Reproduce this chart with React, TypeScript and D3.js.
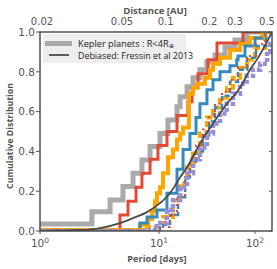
import React from 'react';
import * as d3 from 'd3';

const W = 277;
const H = 269;

const periodTicks = [1, 10, 100];
const periodTickExp = ['0', '1', '2'];
const distanceTicks = [0.02, 0.05, 0.1, 0.2, 0.3, 0.5];
const distanceTickLabels = ['0.02', '0.05', '0.1', '0.2', '0.3', '0.5'];
const yTicks = [0, 0.2, 0.4, 0.6, 0.8, 1.0];
const yTickLabels = ['0.0', '0.2', '0.4', '0.6', '0.8', '1.0'];

// Kepler planets R<4 Re (gray)
const grayP = [1, 2.73, 3.88, 4.98, 6.05, 7.19, 8.41, 10.24, 12.4, 15.4, 16.6, 19.6, 22.6, 26.7, 31.6, 38.3, 48.7, 61.9, 82.5];
const grayV = [0.035, 0.097, 0.156, 0.223, 0.29, 0.357, 0.424, 0.49, 0.558, 0.625, 0.675, 0.725, 0.77, 0.81, 0.85, 0.885, 0.925, 0.96, 1.0];

// red solid
const redP = [1, 4.7, 5.49, 6.41, 7.19, 8.41, 9.8, 12.1, 15.4, 20.0, 22.1, 25.5, 32.4, 40.2, 75.0];
const redV = [0, 0.08, 0.15, 0.22, 0.29, 0.36, 0.43, 0.5, 0.58, 0.65, 0.72, 0.79, 0.86, 0.945, 1.0];

// orange solid
const orangeP = [1, 6.92, 8.09, 8.74, 9.25, 9.61, 10.24, 11.0, 12.4, 14.0, 15.4, 16.6, 17.8, 20.5, 22.6, 24.9, 30.1, 34.0, 36.5, 43.2, 54.9, 69.8, 88.7, 118.5];
const orangeV = [0.005, 0.03, 0.06, 0.1, 0.15, 0.19, 0.22, 0.29, 0.37, 0.41, 0.46, 0.49, 0.52, 0.69, 0.72, 0.74, 0.77, 0.81, 0.84, 0.87, 0.91, 0.94, 0.97, 1.0];

// blue solid
const blueP = [1, 6.92, 7.93, 9.61, 12.1, 15.4, 17.8, 21.0, 24.3, 26.7, 31.6, 36.5, 43.2, 54.9, 64.5, 66.5, 78.6, 100, 127.4];
const blueV = [0, 0.04, 0.07, 0.105, 0.19, 0.31, 0.41, 0.49, 0.57, 0.64, 0.71, 0.76, 0.8, 0.83, 0.86, 0.88, 0.93, 0.97, 1.0];

// orange dashed
const orangeDashP = [1, 7.62, 9.61, 11.0, 14.0, 16.6, 19.6, 22.6, 26.7, 31.6, 36.5, 43.2, 51.1, 59.0, 69.8, 82.5, 100, 127.4];
const orangeDashV = [0.005, 0.02, 0.04, 0.07, 0.155, 0.24, 0.32, 0.39, 0.49, 0.57, 0.62, 0.67, 0.72, 0.77, 0.82, 0.86, 0.92, 1.0];

// blue dashed
const blueDashP = [1, 10.24, 13.0, 15.8, 18.7, 21.0, 24.3, 28.7, 33.2, 38.3, 45.3, 54.9, 66.5, 82.5, 102.4, 130.5];
const blueDashV = [0, 0.03, 0.08, 0.17, 0.27, 0.33, 0.4, 0.48, 0.55, 0.62, 0.68, 0.75, 0.81, 0.87, 0.93, 1.0];

// red dashed
const redDashP = [1, 10.24, 13.0, 15.4, 18.7, 21.0, 24.3, 28.7, 33.2, 38.3, 45.3, 54.9, 66.5, 82.5, 102.4, 127.4];
const redDashV = [0, 0.02, 0.08, 0.17, 0.28, 0.36, 0.43, 0.51, 0.58, 0.64, 0.7, 0.76, 0.82, 0.88, 0.94, 1.0];

// purple dashed
const purpleP = [1, 8.41, 9.61, 12.1, 14.0, 16.6, 19.6, 22.6, 26.7, 31.6, 36.5, 43.2, 50.7, 59.0, 69.8, 81.9, 95.3, 112.9, 133.4, 143.4];
const purpleV = [0, 0.005, 0.04, 0.105, 0.155, 0.22, 0.29, 0.36, 0.42, 0.49, 0.54, 0.59, 0.64, 0.69, 0.74, 0.78, 0.81, 0.84, 0.9, 0.94];

// Debiased: Fressin et al 2013 (smooth)
const fressinP = [1, 2.17, 3.19, 4.7, 6.05, 7.93, 10.24, 13.0, 16.6, 19.6, 26.7, 36.5, 51.1, 69.8, 88.7, 107.5, 150];
const fressinV = [0, 0.005, 0.015, 0.04, 0.065, 0.095, 0.14, 0.19, 0.27, 0.32, 0.44, 0.54, 0.64, 0.72, 0.81, 0.87, 1.0];

const PMAX = 150;

const x = d3.scaleLog().domain([1, 10, 100, PMAX]).range([40, 159, 255, 272]);
const xTop = d3.scaleLog().domain([0.02, 0.05, 0.541]).range([40, 122, 272]);
const y = d3.scaleLinear().domain([0, 1]).range([231, 32]);

const stepLine = d3
  .line<[number, number]>()
  .x((d) => x(d[0]))
  .y((d) => y(d[1]))
  .curve(d3.curveStepAfter);

const smoothLine = d3
  .line<[number, number]>()
  .x((d) => x(d[0]))
  .y((d) => y(d[1]))
  .curve(d3.curveMonotoneX);

function steps(P: number[], V: number[]): [number, number][] {
  const pts: [number, number][] = P.map((p, i) => [p, V[i]]);
  pts.push([PMAX, V[V.length - 1]]);
  return pts;
}

const series = [
  { P: grayP, V: grayV, color: '#aaaaaa', width: 5, dash: undefined },
  { P: redP, V: redV, color: '#e24a33', width: 3, dash: undefined },
  { P: orangeP, V: orangeV, color: '#ffa500', width: 4, dash: undefined },
  { P: blueP, V: blueV, color: '#348abd', width: 3, dash: undefined },
  { P: orangeDashP, V: orangeDashV, color: '#ffa500', width: 4, dash: '6,3' },
  { P: blueDashP, V: blueDashV, color: '#348abd', width: 2.5, dash: '5,3' },
  { P: redDashP, V: redDashV, color: '#e24a33', width: 2, dash: '2,4' },
  { P: purpleP, V: purpleV, color: '#988ed5', width: 4.5, dash: '4,2' },
];

const tickFont = 'DejaVu Sans, sans-serif';
const labelFont = '"Open Sans", sans-serif';

export default function App() {
  const [x0, x1] = [40, 272];
  const [y1, y0] = [32, 231];
  return (
    <svg width={W} height={H} style={{ display: 'block', position: 'absolute', left: 0, top: 0 }}>
      <rect x={0} y={0} width={W} height={H} fill="#ffffff" />
      <defs>
        <clipPath id="plotclip">
          <rect x={x0} y={y1} width={x1 - x0} height={y0 - y1} />
        </clipPath>
      </defs>
      <g clipPath="url(#plotclip)">
        {series.map((s, i) => (
          <path
            key={i}
            d={stepLine(steps(s.P, s.V)) || ''}
            fill="none"
            stroke={s.color}
            strokeWidth={s.width}
            strokeDasharray={s.dash}
            strokeLinejoin="miter"
          />
        ))}
        <path
          d={smoothLine(fressinP.map((p, i) => [p, fressinV[i]] as [number, number])) || ''}
          fill="none"
          stroke="#4a4a4a"
          strokeWidth={1.8}
        />
      </g>

      {/* legend */}
      <rect x={43} y={34} width={143} height={29} fill="#eeeeee" />
      <line x1={45} x2={72} y1={43.5} y2={43.5} stroke="#aaaaaa" strokeWidth={5} />
      <text x={78} y={46.6} fontFamily={labelFont} fontSize={9.2} fill="#222">
        Kepler planets : R&lt;4R
        <tspan fontSize={5.8} dy={1.2}>⊕</tspan>
      </text>
      <line x1={49} x2={69} y1={55} y2={55} stroke="#4a4a4a" strokeWidth={1.8} />
      <text x={78} y={58.8} fontFamily={labelFont} fontSize={8.9} fill="#222">
        Debiased: Fressin et al 2013
      </text>

      {/* frame */}
      <rect x={x0} y={y1} width={x1 - x0} height={y0 - y1} fill="none" stroke="#444" strokeWidth={1.4} />

      {/* y ticks */}
      {yTicks.map((t, i) => (
        <g key={i}>
          <line x1={x0 - 4} x2={x0} y1={y(t)} y2={y(t)} stroke="#555" strokeWidth={1} />
          <line x1={x1 - 3} x2={x1} y1={y(t)} y2={y(t)} stroke="#555" strokeWidth={1} />
          <text x={x0 - 5} y={y(t)} dy="0.36em" textAnchor="end" fontFamily={tickFont} fontSize={10.5} fill="#555">
            {yTickLabels[i]}
          </text>
        </g>
      ))}

      {/* bottom ticks */}
      {periodTicks.map((t, i) => (
        <g key={i}>
          <line x1={x(t)} x2={x(t)} y1={y0} y2={y0 + 3} stroke="#555" strokeWidth={1} />
          <text x={x(t)} y={247} textAnchor="middle" fontFamily={tickFont} fontSize={10.5} fill="#555">
            10<tspan fontSize={7.5} dy={-4.5}>{periodTickExp[i]}</tspan>
          </text>
        </g>
      ))}

      {/* top ticks */}
      {distanceTicks.map((t, i) => (
        <text key={i} x={xTop(t) + (i === 0 ? 2 : 0)} y={25} textAnchor="middle" fontFamily={tickFont} fontSize={10} fill="#555">
          {distanceTickLabels[i]}
        </text>
      ))}

      {/* axis labels */}
      <text x={155} y={14} textAnchor="middle" fontFamily={labelFont} fontWeight="bold" fontSize={9.5} fill="#555">
        Distance [AU]
      </text>
      <text x={157} y={262} textAnchor="middle" fontFamily={labelFont} fontWeight="bold" fontSize={9.2} fill="#555">
        Period [days]
      </text>
      <text
        transform="translate(13,136) rotate(-90)"
        textAnchor="middle"
        fontFamily={labelFont}
        fontWeight="bold"
        fontSize={8.8}
        fill="#555"
      >
        Cumulative Distribution
      </text>
    </svg>
  );
}
